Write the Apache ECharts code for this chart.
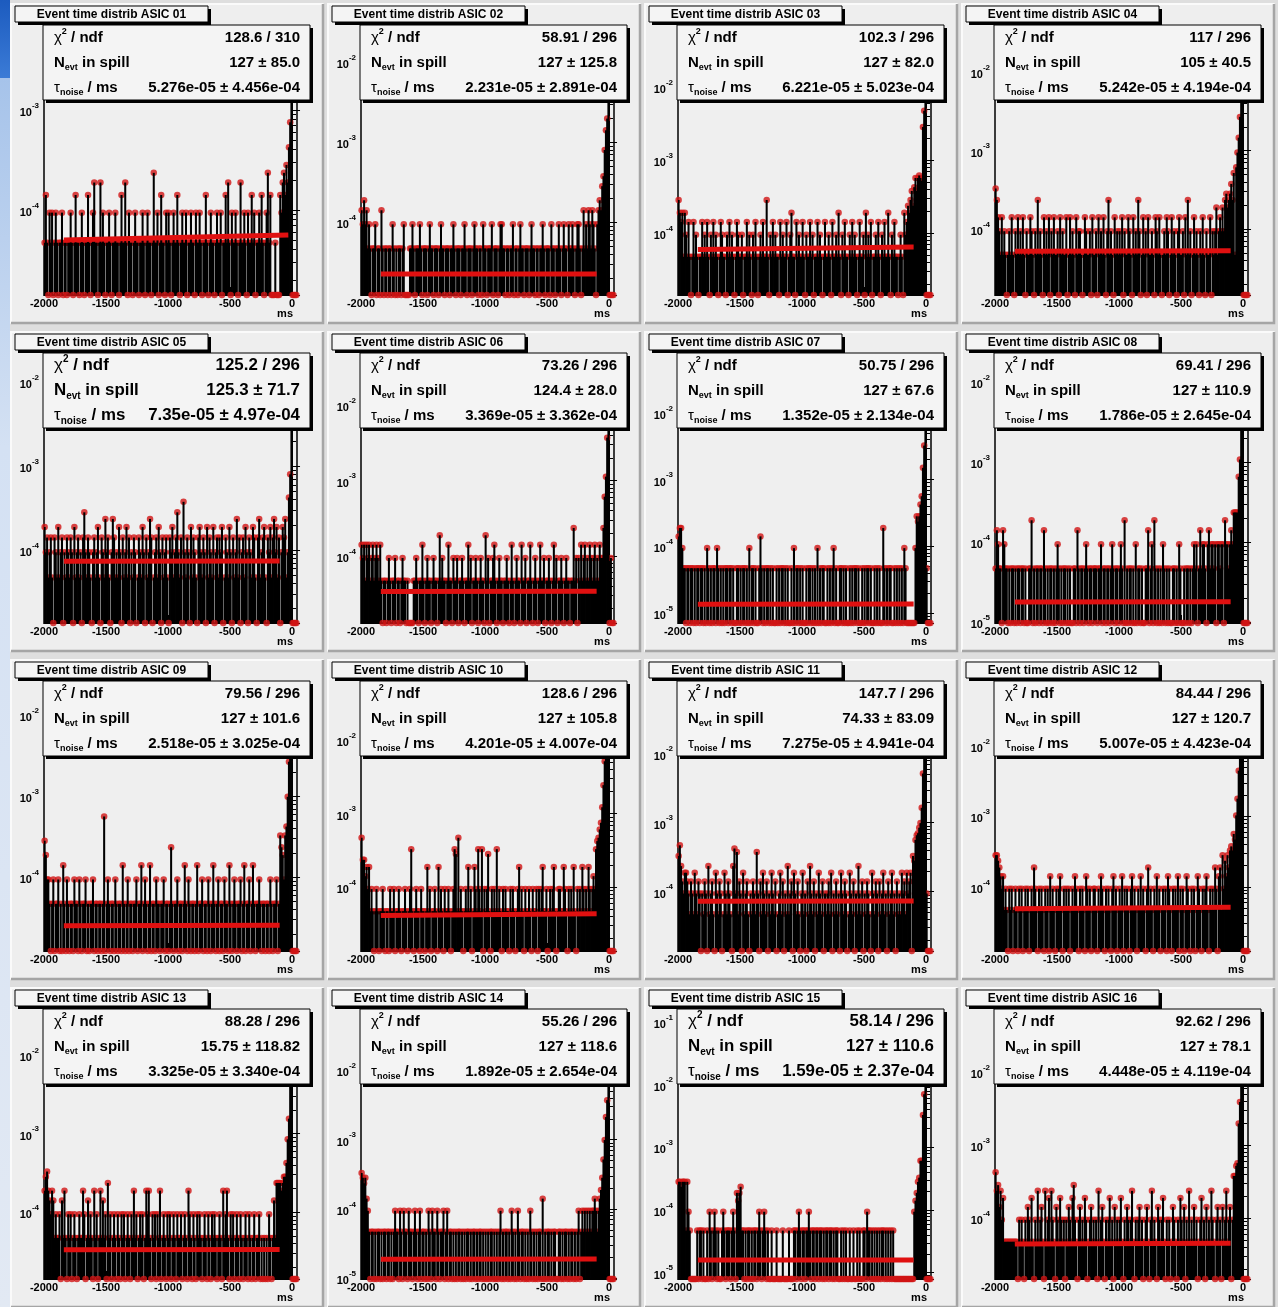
<!DOCTYPE html>
<html>
<head>
<meta charset="utf-8">
<script src="https://cdn.jsdelivr.net/npm/echarts@6/dist/echarts.min.js"></script>
<style>
html,body{margin:0;padding:0;background:#dedede;}
#chart{width:1278px;height:1307px;}
</style>
</head>
<body>
<div id="chart"></div>
<script>
// ---------------- data ----------------
const TITLES = [
  'Event time distrib ASIC 01','Event time distrib ASIC 02','Event time distrib ASIC 03','Event time distrib ASIC 04',
  'Event time distrib ASIC 05','Event time distrib ASIC 06','Event time distrib ASIC 07','Event time distrib ASIC 08',
  'Event time distrib ASIC 09','Event time distrib ASIC 10','Event time distrib ASIC 11','Event time distrib ASIC 12',
  'Event time distrib ASIC 13','Event time distrib ASIC 14','Event time distrib ASIC 15','Event time distrib ASIC 16'
];
const STAT_CHI2 = ['128.6 / 310','58.91 / 296','102.3 / 296','117 / 296','125.2 / 296','73.26 / 296','50.75 / 296','69.41 / 296',
  '79.56 / 296','128.6 / 296','147.7 / 296','84.44 / 296','88.28 / 296','55.26 / 296','58.14 / 296','92.62 / 296'];
const STAT_NEVT = ['127 \u00b1 85.0','127 \u00b1 125.8','127 \u00b1 82.0','105 \u00b1 40.5','125.3 \u00b1 71.7','124.4 \u00b1 28.0','127 \u00b1 67.6','127 \u00b1 110.9',
  '127 \u00b1 101.6','127 \u00b1 105.8','74.33 \u00b1 83.09','127 \u00b1 120.7','15.75 \u00b1 118.82','127 \u00b1 118.6','127 \u00b1 110.6','127 \u00b1 78.1'];
const STAT_TAU = ['5.276e-05 \u00b1 4.456e-04','2.231e-05 \u00b1 2.891e-04','6.221e-05 \u00b1 5.023e-04','5.242e-05 \u00b1 4.194e-04',
  '7.35e-05 \u00b1 4.97e-04','3.369e-05 \u00b1 3.362e-04','1.352e-05 \u00b1 2.134e-04','1.786e-05 \u00b1 2.645e-04',
  '2.518e-05 \u00b1 3.025e-04','4.201e-05 \u00b1 4.007e-04','7.275e-05 \u00b1 4.941e-04','5.007e-05 \u00b1 4.423e-04',
  '3.325e-05 \u00b1 3.340e-04','1.892e-05 \u00b1 2.654e-04','1.59e-05 \u00b1 2.37e-04','4.448e-05 \u00b1 4.119e-04'];

const X_MIN = -2000, X_MAX = 40, BIN_MS = 10;
const X_TICK_STEP = 500;
const UNIT = 4.7e-5;           // density of one entry in a bin
const Y_MIN = [1.41e-5,1.23e-5,1.41e-5,1.45e-5,1.35e-5,1.29e-5,7.08e-6,9.77e-6,1.23e-5,1.35e-5,1.38e-5,1.23e-5,1.41e-5,9.77e-6,7.94e-6,1.45e-5];
const Y_MAX = [5.62e-3,2.19e-2,5.13e-2,2.95e-2,1.70e-2,3.63e-2,5.62e-2,1.74e-2,2.0e-2,4.68e-2,8.13e-2,6.03e-2,2.88e-2,5.5e-2,0.112,5.37e-2];

const FIT_START_X = [-1840,-1840,-1840,-1840,-1840,-1840,-1840,-1840,-1840,-1840,-1840,-1840,-1840,-1840,-1840,-1840];
const FIT_END_X   = [-30,-100,-100,-100,-100,-100,-100,-100,-100,-100,-100,-100,-100,-100,-100,-100];
const FIT_START_Y = [5.0e-5,2.25e-5,5.9e-5,5.24e-5,7.35e-5,3.37e-5,1.35e-5,1.79e-5,2.52e-5,4.1e-5,7.28e-5,4.9e-5,3.33e-5,1.89e-5,1.59e-5,4.4e-5];
const FIT_END_Y   = [5.6e-5,2.25e-5,6.4e-5,5.3e-5,7.4e-5,3.4e-5,1.36e-5,1.8e-5,2.55e-5,4.35e-5,7.3e-5,5.15e-5,3.35e-5,1.9e-5,1.6e-5,4.5e-5];

// entries per 10 ms bin, from -2000 ms to +40 ms (204 bins)
const COUNTS_01 = [
 1,3,1,0,2,1,2,0,1,2,1,0,1,1,2,0,1,1,0,1,
 1,2,1,0,1,3,1,1,0,1,2,1,0,1,1,3,1,0,1,2,
 4,1,1,0,1,4,1,2,1,0,1,1,2,1,0,1,1,2,1,1,
 0,1,3,1,1,4,1,0,2,1,1,0,1,2,1,1,0,1,1,2,
 1,0,1,2,1,1,0,1,5,1,1,2,0,1,3,1,1,0,2,1,
 2,1,0,1,2,1,1,3,1,0,1,2,1,1,2,0,1,1,2,1,
 1,0,2,1,1,2,1,0,1,1,3,1,0,1,2,1,1,0,1,2,
 1,1,2,0,1,1,3,1,4,1,0,2,1,1,2,1,0,1,4,1,
 1,2,1,0,2,1,1,3,1,2,0,1,1,2,1,3,1,0,1,2,
 5,1,3,0,0,0,1,0,0,0,3,2,4,5,3,6,4,9,16,130,
 0,0,0,0];
const COUNTS_02 = [
 3,2,4,2,3,1,2,1,0,1,1,2,0,1,1,0,3,1,0,1,
 1,0,1,1,0,2,1,0,1,0,1,1,0,1,2,0,0,0,0,1,
 1,2,1,0,1,1,1,2,1,0,1,1,1,0,1,2,1,1,0,1,
 1,1,0,1,2,1,1,0,1,1,1,0,1,1,2,1,0,1,1,1,
 0,1,1,2,1,0,1,1,1,0,1,2,1,1,0,1,1,0,2,1,
 1,0,1,1,1,2,0,1,1,1,0,1,2,2,1,1,0,1,1,0,
 1,1,2,0,1,1,0,1,2,1,1,0,1,1,1,0,1,2,1,1,
 0,1,1,0,1,1,2,1,0,1,1,1,0,2,1,1,0,1,1,2,
 1,0,1,2,1,1,0,2,1,1,2,1,0,1,2,2,1,0,1,3,
 1,2,1,3,2,1,3,2,1,0,2,3,4,3,6,8,17,30,42,600,
 0,0,0,0];
const COUNTS_03 = [
 6,4,3,4,1,4,2,1,3,1,0,1,3,1,2,1,0,1,1,3,
 1,2,1,3,1,0,2,1,3,1,2,1,0,1,3,2,1,1,0,2,
 1,3,1,2,1,0,1,3,2,1,1,2,0,1,1,3,1,2,1,0,
 2,1,3,1,0,1,2,1,3,1,1,6,1,0,2,1,3,1,2,1,
 1,0,3,1,2,1,1,3,0,1,2,4,1,1,0,3,1,2,1,1,
 3,1,0,2,1,1,3,1,2,0,1,1,3,1,2,1,0,1,3,1,
 1,2,1,0,3,1,1,2,1,4,1,0,2,1,3,1,1,0,2,1,
 3,1,2,1,0,1,3,1,1,2,0,4,1,2,1,3,0,1,1,2,
 1,3,1,0,2,1,3,1,1,4,1,0,2,1,3,1,1,0,1,2,
 1,0,4,2,3,5,4,6,8,5,9,12,8,12,13,12,11,60,100,1500,
 0,0,0,0];
const COUNTS_04 = [
 7,5,3,2,1,3,1,2,1,0,1,2,1,3,1,0,2,1,3,1,
 2,1,3,1,0,2,1,1,3,2,1,0,2,1,5,1,2,1,0,3,
 1,2,1,3,0,2,1,3,1,1,2,0,3,1,2,1,1,3,0,1,
 3,1,2,1,0,3,1,2,2,1,0,1,3,2,1,1,2,0,3,1,
 1,2,0,3,1,2,1,3,1,0,2,5,1,2,1,0,3,1,2,1,
 2,1,3,0,2,1,1,3,2,1,0,3,1,2,1,5,2,0,1,3,
 1,2,0,3,1,1,2,1,0,3,2,1,3,1,0,1,2,1,3,2,
 0,1,3,1,2,1,0,2,3,1,1,2,0,3,1,5,1,2,0,1,
 3,1,2,1,0,2,1,3,1,0,2,1,1,3,0,2,1,2,4,1,
 2,3,2,4,2,5,6,4,5,6,8,5,11,1,13,20,31,57,300,900,
 0,0,0,0];
const COUNTS_05 = [
 4,2,3,1,2,3,1,0,3,2,1,4,1,2,3,0,2,1,3,2,
 1,3,2,0,4,1,2,3,1,2,0,3,6,2,1,3,2,1,0,2,
 3,1,2,4,1,0,3,2,1,5,2,3,1,0,2,5,3,1,2,1,
 4,2,0,3,1,2,4,1,3,0,2,1,3,2,0,1,3,2,1,4,
 2,0,3,1,2,5,3,0,1,2,3,1,4,2,0,3,1,2,3,1,
 0,3,2,4,1,2,3,6,2,1,3,0,8,2,1,3,2,0,4,1,
 3,2,1,0,3,4,2,1,3,2,0,4,1,3,2,1,4,0,2,3,
 1,3,2,4,0,1,3,2,1,4,2,0,3,1,2,5,1,3,0,2,
 3,1,4,2,0,3,2,1,4,3,1,0,3,5,1,2,3,4,1,0,
 3,2,4,1,3,5,2,4,1,3,0,2,4,3,5,1,2,9,17,500,
 0,0,0,0];
const COUNTS_06 = [
 3,2,3,1,3,2,3,1,2,3,1,2,3,2,1,3,1,0,1,1,
 0,1,2,1,0,1,1,2,0,1,1,0,1,2,1,1,0,1,0,0,
 0,0,1,1,2,1,0,1,1,3,1,0,1,2,1,1,0,1,2,1,
 1,0,1,4,1,2,1,1,0,1,3,1,1,0,2,1,1,2,0,1,
 1,2,1,0,1,1,3,1,2,0,1,1,2,1,0,1,2,1,1,0,
 4,1,2,0,1,1,2,3,1,0,1,2,1,1,0,1,1,2,1,0,
 1,3,1,0,1,2,1,1,0,3,1,1,2,0,1,1,3,1,0,1,
 2,1,0,1,3,1,1,2,0,1,1,2,1,0,1,3,1,2,0,1,
 1,2,1,0,1,2,1,1,0,1,1,5,1,2,0,2,1,3,1,2,
 3,1,2,1,3,2,1,2,3,1,2,1,3,2,2,5,13,24,79,1000,
 0,2,0,0];
const COUNTS_07 = [
 3,4,4,2,1,1,0,1,1,0,1,1,0,1,0,1,1,0,1,1,
 0,1,0,2,1,0,1,0,1,1,0,2,1,0,1,0,1,0,1,1,
 0,1,1,0,1,0,0,1,1,0,1,0,1,1,0,1,0,2,0,1,
 1,0,1,0,0,1,3,1,0,1,0,1,1,0,1,0,1,0,0,1,
 0,1,0,1,1,0,1,0,1,0,0,1,0,2,0,1,1,0,1,0,
 1,0,0,1,0,1,1,0,1,0,1,0,2,0,1,0,1,1,0,0,
 1,0,1,0,1,2,0,1,0,0,1,1,0,1,0,1,0,0,1,0,
 1,0,1,1,0,1,0,0,1,0,1,0,1,1,0,1,0,0,1,0,
 1,0,1,0,0,4,1,0,1,0,1,1,0,0,1,0,1,0,1,0,
 1,0,2,1,0,0,0,0,0,0,0,2,6,5,6,9,12,32,69,1500,
 1,0,0,0];
const COUNTS_08 = [
 1,3,2,1,1,0,3,2,1,1,0,1,0,1,1,0,1,0,1,1,
 0,1,1,0,1,0,0,1,1,4,0,1,0,1,1,0,1,1,0,3,
 1,0,1,0,1,1,0,1,0,1,2,1,0,1,0,1,1,0,1,0,
 1,0,0,1,1,0,3,1,0,1,1,0,1,2,1,0,1,1,0,1,
 1,1,0,1,1,2,0,1,1,0,1,1,0,1,2,1,0,1,1,0,
 1,2,1,0,4,0,1,0,1,1,0,1,0,2,0,1,1,0,1,0,
 0,1,1,3,0,1,2,0,4,1,0,1,0,1,0,2,1,0,1,0,
 1,0,0,1,1,0,1,0,2,1,0,0,1,0,1,1,0,1,0,1,
 2,1,2,0,1,3,1,2,2,1,0,2,3,1,2,2,1,2,0,2,
 2,1,2,2,0,4,2,2,1,2,3,2,5,5,5,5,14,23,60,800,
 0,0,0,0];
const COUNTS_09 = [
 6,4,2,2,1,0,1,2,0,1,1,2,0,1,0,3,1,0,2,1,
 0,1,1,0,2,1,1,0,2,1,0,1,1,2,0,1,0,1,1,2,
 0,1,1,0,1,1,0,1,12,0,1,2,1,0,1,1,0,2,1,0,
 1,1,0,3,1,0,1,2,0,1,1,0,1,1,2,0,1,1,3,0,
 1,2,1,0,1,3,0,1,1,0,2,1,1,0,1,1,2,0,1,1,
 0,1,5,1,0,1,1,2,0,1,1,0,1,3,1,0,2,1,0,1,
 1,0,1,3,0,1,1,2,0,1,1,0,2,1,0,1,3,1,0,1,
 2,0,1,1,0,2,1,1,0,3,1,0,1,2,1,0,1,1,2,0,
 1,3,0,1,1,2,0,1,3,1,0,1,1,2,1,0,1,1,0,1,
 1,0,2,1,0,1,1,2,0,1,7,5,4,2,7,9,21,57,180,900,
 0,0,0,0];
const COUNTS_10 = [
 10,5,5,3,4,2,4,1,2,1,0,1,2,1,0,1,1,2,1,0,
 1,1,0,2,1,1,2,0,1,1,2,1,0,1,1,2,1,0,1,2,
 7,1,0,1,2,1,1,0,2,1,1,0,1,4,1,2,0,1,1,2,
 1,0,4,1,2,1,0,2,1,1,2,1,0,1,2,7,6,1,10,1,
 2,1,0,1,2,1,4,1,2,0,1,4,2,1,7,2,1,7,0,2,
 1,2,6,1,0,2,1,2,1,7,1,2,1,0,2,1,2,1,1,0,
 2,1,2,1,0,1,2,4,1,2,1,0,2,1,1,2,1,0,2,1,
 1,2,0,2,1,2,4,1,1,2,0,1,2,1,2,4,1,0,1,2,
 2,1,1,4,2,1,0,2,1,2,1,4,1,0,2,1,2,1,4,2,
 1,2,1,4,2,1,2,3,2,7,9,10,13,16,26,52,110,300,700,1500,
 0,0,0,0];
const COUNTS_11 = [
 7,10,5,3,2,4,4,3,2,1,3,2,1,4,2,1,3,2,0,2,
 1,3,2,0,5,1,2,3,1,0,4,2,1,3,2,0,1,4,2,1,
 3,2,1,0,5,9,2,8,1,3,2,0,4,1,2,3,1,0,2,1,
 3,2,1,8,2,0,3,1,4,2,1,3,0,2,1,4,2,1,3,0,
 1,2,4,1,3,0,2,1,5,1,2,3,0,4,2,1,3,1,0,2,
 4,1,2,0,3,1,5,2,1,3,0,2,1,4,2,1,3,0,2,1,
 2,3,1,4,0,2,1,3,1,2,0,4,2,1,3,2,0,1,4,2,
 1,3,0,2,1,5,2,1,3,0,2,1,3,2,1,0,4,2,1,3,
 2,0,3,1,2,4,1,2,0,3,1,2,4,1,2,0,3,1,2,1,
 4,2,3,1,4,2,3,4,0,7,6,12,14,15,18,21,35,110,400,2500,
 2,0,0,0];
const COUNTS_12 = [
 6,6,5,4,3,2,3,1,2,1,0,2,1,2,0,1,2,1,0,2,
 1,2,0,1,2,1,2,0,1,2,1,4,2,1,0,2,1,2,1,0,
 2,1,2,0,3,1,2,1,0,2,1,2,3,1,0,2,1,2,1,2,
 0,1,2,1,3,2,1,0,2,1,2,1,0,3,2,1,2,0,1,2,
 2,1,0,2,1,3,2,1,0,2,1,2,1,0,2,3,1,2,0,1,
 2,1,3,0,2,1,2,1,0,2,3,1,2,1,0,2,1,3,1,2,
 1,0,2,4,1,2,1,0,2,1,3,1,2,0,1,2,1,2,0,3,
 2,1,0,2,1,2,1,3,0,2,1,2,0,1,3,2,1,0,2,1,
 2,0,1,3,2,1,0,2,1,2,3,1,0,2,1,2,1,4,2,0,
 3,4,1,6,2,5,3,6,4,7,8,7,12,10,22,38,95,300,800,2000,
 0,0,0,0];
const COUNTS_13 = [
 4,6,7,4,3,2,4,3,1,2,1,1,2,0,3,1,4,1,0,2,
 1,2,0,1,2,1,0,1,2,1,1,4,2,0,1,3,1,2,1,0,
 4,1,2,0,1,4,1,3,1,2,0,5,1,2,0,1,2,1,0,2,
 1,0,2,1,2,0,1,2,1,0,2,1,4,1,2,0,1,2,1,2,
 0,1,4,2,4,1,0,2,1,2,0,2,1,4,0,1,2,1,0,2,
 1,2,0,1,2,1,0,2,1,1,2,0,1,2,1,0,4,2,1,0,
 2,1,0,2,1,2,1,0,1,2,1,0,2,1,0,2,1,2,1,0,
 1,2,1,0,4,1,2,4,1,0,2,1,2,0,1,2,1,0,2,1,
 0,1,2,1,0,2,1,0,1,2,0,1,1,2,0,1,0,1,0,1,
 0,2,1,0,1,3,1,5,5,5,5,4,5,6,6,9,18,33,200,800,
 0,0,0,0];
const COUNTS_14 = [
 7,6,5,6,3,2,1,0,1,1,0,1,0,1,1,0,1,0,1,1,
 0,1,1,0,1,0,1,2,1,1,0,2,1,0,2,1,1,0,2,1,
 1,0,1,2,1,0,1,2,0,1,1,0,1,0,2,1,0,2,1,1,
 0,2,1,0,1,1,2,0,1,2,0,1,1,0,1,0,1,0,1,1,
 0,1,0,1,0,1,1,0,1,0,1,1,0,1,0,1,1,0,1,0,
 1,0,1,0,1,1,0,1,0,1,0,1,2,0,1,0,1,1,0,1,
 0,2,1,0,1,0,2,1,0,1,1,0,1,0,1,0,2,1,0,1,
 0,1,0,1,1,0,3,0,1,0,1,1,0,1,0,1,1,0,0,1,
 1,0,1,0,1,1,0,1,0,1,1,0,1,0,1,2,0,1,2,1,
 2,1,2,1,2,1,2,2,3,2,1,2,3,4,6,11,21,45,79,2000,
 0,0,0,0];
const COUNTS_15 = [
 6,6,5,6,6,6,1,6,2,1,0,0,0,0,0,1,0,1,1,0,
 1,0,0,1,0,2,1,0,1,2,1,0,1,0,0,1,2,1,0,1,
 1,1,0,1,2,1,0,4,3,4,5,1,1,0,1,0,1,1,0,1,
 0,1,1,0,1,2,1,0,1,2,1,0,1,0,0,1,0,0,0,1,
 0,0,0,0,1,0,0,0,0,1,0,0,0,1,1,0,1,2,1,0,
 1,1,0,1,1,2,1,0,1,1,0,1,1,0,1,1,0,1,0,1,
 1,0,1,1,0,1,0,1,1,0,0,1,0,1,0,1,0,0,1,0,
 0,1,0,0,1,0,1,0,0,1,1,0,2,1,1,0,1,0,1,0,
 1,0,1,0,1,1,0,1,0,1,0,1,0,1,0,0,0,0,0,0,
 0,0,0,0,0,0,0,0,0,0,2,3,4,6,7,13,13,70,150,3000,
 0,0,0,0];
const COUNTS_16 = [
 9,5,6,3,5,2,4,1,1,1,1,1,1,1,1,1,1,1,0,2,
 1,2,1,0,2,1,3,2,1,4,1,0,2,1,5,1,2,3,1,0,
 5,1,2,4,1,5,2,1,0,3,2,1,4,2,1,2,0,2,1,3,
 2,1,4,6,2,1,0,2,3,1,2,1,4,2,0,1,2,3,1,2,
 1,2,0,5,1,2,3,1,0,2,1,2,4,1,2,0,3,1,2,1,
 2,4,1,0,2,1,3,2,1,2,5,1,0,2,1,2,3,1,2,0,
 1,2,3,1,0,2,5,1,2,1,0,3,2,1,2,4,1,0,2,1,
 2,0,1,3,2,1,0,2,1,4,2,1,3,0,2,1,5,1,2,1,
 3,1,2,0,1,2,4,1,2,0,3,1,2,1,5,2,1,0,2,3,
 1,2,0,3,1,2,5,1,2,3,0,2,8,8,11,12,42,83,400,2000,
 0,0,0,0];

const PANEL_COUNTS = [COUNTS_01,COUNTS_02,COUNTS_03,COUNTS_04,COUNTS_05,COUNTS_06,COUNTS_07,COUNTS_08,
  COUNTS_09,COUNTS_10,COUNTS_11,COUNTS_12,COUNTS_13,COUNTS_14,COUNTS_15,COUNTS_16];

// ---------------- layout & style ----------------
const FONT = '"Liberation Sans", Arial, Helvetica, sans-serif';
const COL_X = [10, 327, 644, 961];
const ROW_Y = [3, 331, 659, 987];
const PANEL_W = 314, PANEL_H = 321;
const FR_L = 34, FR_T = 32, FR_W = 253, FR_H = 260;
const BOX_L = 33, BOX_R = 300, BOX_T = 22, BOX_B = 97;
const VALUE_COL_W = 152;
const DOT_COLOR = '#d11414';

const measureCtx = document.createElement('canvas').getContext('2d');
function textWidth(s, size) {
  measureCtx.font = 'bold ' + size + 'px ' + FONT;
  return measureCtx.measureText(s).width;
}

function statsRich(f) {
  const lh = Math.round(f * 1.3), fs = Math.round(f * 0.62);
  return {
    b: {fontSize: f, fontWeight: 'bold', fontFamily: FONT, lineHeight: lh, fill: '#000'},
    g: {fontSize: Math.round(f * 1.02), fontFamily: FONT, lineHeight: lh, fill: '#000'},
    sup: {fontSize: fs, fontWeight: 'bold', fontFamily: FONT, lineHeight: fs, verticalAlign: 'top', fill: '#000'},
    sub: {fontSize: fs, fontWeight: 'bold', fontFamily: FONT, lineHeight: fs, verticalAlign: 'bottom', fill: '#000'}
  };
}

const grids = [], xAxes = [], yAxes = [], series = [];
const back = [], front = [];

// page decorations: blue strip at the left edge
back.push({type: 'rect', z: -30, shape: {x: 0, y: 0, width: 10, height: 78},
  style: {fill: {type: 'linear', x: 0, y: 0, x2: 0, y2: 1, colorStops: [{offset: 0, color: '#1c5bbf'}, {offset: 1, color: '#3b7bd6'}]}}});
back.push({type: 'rect', z: -30, shape: {x: 0, y: 78, width: 10, height: 1229},
  style: {fill: {type: 'linear', x: 0, y: 0, x2: 0, y2: 1, colorStops: [{offset: 0, color: '#a6c3ea'}, {offset: 0.3, color: '#d4e1f3'}, {offset: 1, color: '#e2e9f3'}]}}});

PANEL_COUNTS.forEach((counts, i) => {
  const col = i % 4, row = Math.floor(i / 4);
  const px = COL_X[col], py = ROW_Y[row];
  const yMin = Y_MIN[i], yMax = Y_MAX[i];

  // pad background with bevel
  back.push({type: 'rect', z: -20, shape: {x: px, y: py, width: PANEL_W, height: PANEL_H}, style: {fill: '#eeeeee'}});
  back.push({type: 'polyline', z: -19, shape: {points: [[px + 1, py + PANEL_H - 1], [px + 1, py + 1], [px + PANEL_W - 1, py + 1]]}, style: {stroke: '#fafafa', lineWidth: 2, fill: null}});
  back.push({type: 'polyline', z: -19, shape: {points: [[px + PANEL_W - 1, py + 1], [px + PANEL_W - 1, py + PANEL_H - 1], [px + 1, py + PANEL_H - 1]]}, style: {stroke: '#a5a5a5', lineWidth: 2.5, fill: null}});

  grids.push({left: px + FR_L, top: py + FR_T, width: FR_W, height: FR_H, show: true,
    backgroundColor: '#efefef', borderColor: '#000', borderWidth: 1.5});

  xAxes.push({
    gridIndex: i, type: 'value', min: X_MIN, max: X_MAX, interval: X_TICK_STEP,
    axisLine: {show: true, onZero: false, lineStyle: {color: '#000', width: 1}},
    axisTick: {show: true, inside: true, length: 8, lineStyle: {color: '#000'}},
    splitLine: {show: false},
    axisLabel: {
      margin: 3, color: '#000', fontSize: 11, fontWeight: 'bold', fontFamily: FONT,
      showMaxLabel: false,
      formatter: v => (v % X_TICK_STEP === 0 ? String(v) : '')
    }
  });

  yAxes.push({
    gridIndex: i, type: 'log', logBase: 10, min: yMin, max: yMax,
    axisLine: {show: true, lineStyle: {color: '#000', width: 1}},
    axisTick: {show: true, inside: true, length: 8, lineStyle: {color: '#000'}},
    minorTick: {show: true, splitNumber: 9, length: 4, lineStyle: {color: '#000'}},
    splitLine: {show: false},
    axisLabel: {
      margin: 5, color: '#000',
      formatter: v => {
        const e = Math.log10(v), r = Math.round(e);
        return Math.abs(e - r) < 1e-6 ? '{b|10}{s|' + r + '}' : '';
      },
      rich: {
        b: {fontSize: 11, fontWeight: 'bold', fontFamily: FONT, color: '#000', lineHeight: 17, verticalAlign: 'bottom'},
        s: {fontSize: 8, fontWeight: 'bold', fontFamily: FONT, color: '#000', lineHeight: 9, verticalAlign: 'top'}
      }
    }
  });

  // histogram bins
  const bars = [], topDots = [], zeroDots = [];
  counts.forEach((c, k) => {
    const x0 = X_MIN + k * BIN_MS, x1 = x0 + BIN_MS, v = c * UNIT;
    if (c > 0) {
      bars.push([x0, x1, v]);
      if (v <= yMax) topDots.push([(x0 + x1) / 2, v]);
    } else {
      zeroDots.push([(x0 + x1) / 2, yMin]);
    }
  });

  series.push({
    type: 'scatter', xAxisIndex: i, yAxisIndex: i, data: topDots, symbol: 'circle', symbolSize: 6.5,
    itemStyle: {color: DOT_COLOR}, silent: true, z: 2
  });
  series.push({
    type: 'custom', xAxisIndex: i, yAxisIndex: i, data: bars, clip: true, silent: true, z: 3,
    encode: {x: [0, 1], y: 2},
    renderItem: (params, api) => {
      const top = api.coord([api.value(0), api.value(2)]);
      const bot = api.coord([api.value(1), yMin]);
      const w = Math.max(bot[0] - top[0] + 0.8, 2);
      return {type: 'rect', shape: {x: top[0] - 0.4, y: top[1], width: w, height: bot[1] - top[1]},
        style: {fill: '#000'}};
    }
  });
  series.push({
    type: 'scatter', xAxisIndex: i, yAxisIndex: i, data: zeroDots, symbol: 'circle', symbolSize: 6.5,
    itemStyle: {color: DOT_COLOR}, silent: true, z: 4
  });
  series.push({
    type: 'line', xAxisIndex: i, yAxisIndex: i, showSymbol: false, silent: true, z: 5,
    data: [[FIT_START_X[i], FIT_START_Y[i]], [FIT_END_X[i], FIT_END_Y[i]]],
    lineStyle: {color: '#e01010', width: 5}
  });

  // title box
  front.push({type: 'rect', z: 100, shape: {x: px + 8, y: py + 6, width: 193, height: 16}, style: {fill: '#000'}});
  front.push({type: 'rect', z: 101, shape: {x: px + 5, y: py + 3, width: 193, height: 16}, style: {fill: '#f4f4f4', stroke: '#000', lineWidth: 1}});
  front.push({type: 'text', z: 102, x: px + 101.5, y: py + 11.5,
    style: {text: TITLES[i], fill: '#000', fontSize: 12, fontWeight: 'bold', fontFamily: FONT,
      align: 'center', verticalAlign: 'middle', textAlign: 'center', textVerticalAlign: 'middle'}});

  // stats box
  const widest = Math.max(textWidth(STAT_CHI2[i], 100), textWidth(STAT_NEVT[i], 100), textWidth(STAT_TAU[i], 100));
  const f = Math.min(17, 100 * VALUE_COL_W / widest);
  const rich = statsRich(f);
  front.push({type: 'rect', z: 100, shape: {x: px + BOX_L + 3, y: py + BOX_T + 3, width: BOX_R - BOX_L, height: BOX_B - BOX_T}, style: {fill: '#000'}});
  front.push({type: 'rect', z: 101, shape: {x: px + BOX_L, y: py + BOX_T, width: BOX_R - BOX_L, height: BOX_B - BOX_T}, style: {fill: '#f4f4f4', stroke: '#000', lineWidth: 1}});
  const rowH = (BOX_B - BOX_T) / 3;
  const labels = ['{g|\u03c7}{sup|2}{b| / ndf}', '{b|N}{sub|evt}{b| in spill}', '{g|\u03c4}{sub|noise}{b| / ms}'];
  const values = [STAT_CHI2[i], STAT_NEVT[i], STAT_TAU[i]];
  for (let r = 0; r < 3; r++) {
    const yc = py + BOX_T + rowH * (r + 0.5);
    front.push({type: 'text', z: 102, x: px + 44, y: yc,
      style: {text: labels[r], rich: rich, fill: '#000', fontSize: f, fontFamily: FONT,
        align: 'left', verticalAlign: 'middle', textAlign: 'left', textVerticalAlign: 'middle'}});
    front.push({type: 'text', z: 102, x: px + 290, y: yc,
      style: {text: values[r], fill: '#000', fontSize: f, fontWeight: 'bold', fontFamily: FONT,
        align: 'right', verticalAlign: 'middle', textAlign: 'right', textVerticalAlign: 'middle'}});
  }

  // x-axis title
  front.push({type: 'text', z: 102, x: px + FR_L + FR_W - 4, y: py + FR_T + FR_H + 19,
    style: {text: 'ms', fill: '#000', fontSize: 11, fontWeight: 'bold', fontFamily: FONT,
      align: 'right', verticalAlign: 'middle', textAlign: 'right', textVerticalAlign: 'middle'}});
});

const chart = echarts.init(document.getElementById('chart'), null, {renderer: 'canvas'});
chart.setOption({
  backgroundColor: '#dedede',
  animation: false,
  grid: grids,
  xAxis: xAxes,
  yAxis: yAxes,
  series: series,
  graphic: {elements: back.concat(front)}
});
</script>
</body>
</html>
